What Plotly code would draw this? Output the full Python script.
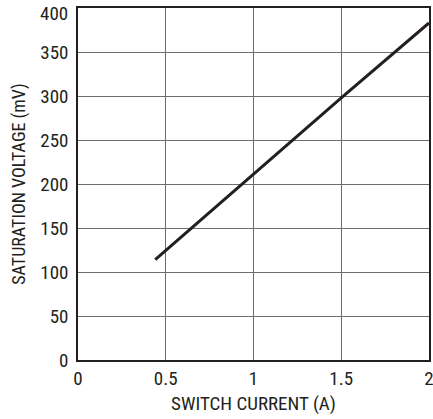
import plotly.graph_objects as go

current_a = [0.44, 1.0, 1.5, 2.0]
sat_voltage_mv = [114, 211, 298, 383]
x_ticks = [0, 0.5, 1, 1.5, 2]
x_tick_labels = ["0", "0.5", "1", "1.5", "2"]
y_ticks = [0, 50, 100, 150, 200, 250, 300, 350, 400]
y_tick_labels = ["0", "50", "100", "150", "200", "250", "300", "350", "400"]

FONT = "Roboto Condensed, Liberation Sans Narrow, Arial Narrow, sans-serif"

fig = go.Figure()
fig.add_trace(go.Scatter(x=current_a, y=sat_voltage_mv, mode="lines",
                         line=dict(color="#231f20", width=3), showlegend=False,
                         cliponaxis=False, hoverinfo="skip"))

# the top tick label sits just below the frame edge, so draw it as an annotation
top_label = y_tick_labels[-1]
axis_labels = y_tick_labels[:-1] + [""]
fig.add_annotation(x=0, xref="paper", y=y_ticks[-1], yref="y", text=top_label,
                   showarrow=False, xanchor="right", yanchor="middle",
                   xshift=-8, yshift=-5, font=dict(size=19, color="#231f20"))

fig.update_layout(
    width=433, height=419,
    margin=dict(l=78, r=4, t=8, b=59, autoexpand=False),
    paper_bgcolor="white", plot_bgcolor="white",
    font=dict(family=FONT, size=19, color="#231f20"),
)
fig.update_xaxes(range=[0, 2.0001], tickvals=x_ticks, ticktext=x_tick_labels,
                 automargin=False, ticklabeloverflow="allow",
                 showgrid=True, gridcolor="#6d6d6d", gridwidth=1,
                 showline=True, linecolor="#231f20", linewidth=1.5, mirror=True,
                 zeroline=False, ticks="", ticklen=0,
                 title=dict(text="SWITCH CURRENT (A)", font=dict(size=19), standoff=8))
fig.update_yaxes(range=[0, 400.01], tickvals=y_ticks, ticktext=axis_labels,
                 automargin=False, ticklabeloverflow="allow", ticklabelstandoff=4,
                 showgrid=True, gridcolor="#6d6d6d", gridwidth=1,
                 showline=True, linecolor="#231f20", linewidth=1.5, mirror=True,
                 zeroline=False, ticks="", ticklen=0,
                 title=dict(text="SATURATION VOLTAGE (mV)", font=dict(size=18), standoff=10))

fig.write_html("out.html", config={"displayModeBar": False},
               post_script="document.body.style.margin='0';")
